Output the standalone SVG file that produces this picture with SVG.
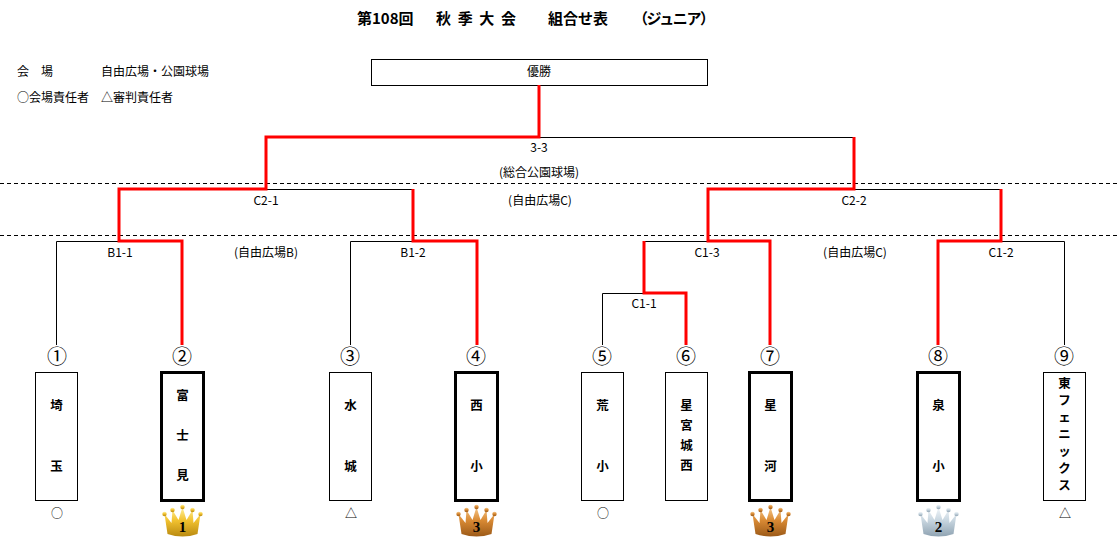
<svg xmlns="http://www.w3.org/2000/svg" width="1120" height="540" viewBox="0 0 1120 540">
<style>
text{font-family:"Noto Sans CJK JP","Noto Sans",sans-serif;fill:#000}
.t{font-size:15px;font-weight:bold}
.s{font-size:12px}
.l{font-size:12px;text-anchor:middle}
.n{font-size:20px;text-anchor:middle}
.m{font-size:12.5px;font-weight:bold;text-anchor:middle}
.k{font-size:12px;text-anchor:middle}
.box{fill:#fff;stroke:#000;stroke-width:1}
.win{fill:#fff;stroke:#000;stroke-width:3}
.bl{fill:none;stroke:#000;stroke-width:1}
.rd{fill:none;stroke:#ff0000;stroke-width:3;stroke-linejoin:miter}
.dash{stroke:#000;stroke-width:1;stroke-dasharray:4 3}
.cn{font-family:"Liberation Serif",serif;font-size:15px;font-weight:bold;text-anchor:middle}
</style>
<defs>
<linearGradient id="gold" x1="0" y1="0" x2="0" y2="1">
<stop offset="0" stop-color="#fff3a0"/><stop offset="0.45" stop-color="#f2c230"/><stop offset="1" stop-color="#b98a10"/>
</linearGradient>
<linearGradient id="bronze" x1="0" y1="0" x2="0" y2="1">
<stop offset="0" stop-color="#f6c88a"/><stop offset="0.45" stop-color="#d98a34"/><stop offset="1" stop-color="#9c5a18"/>
</linearGradient>
<linearGradient id="silver" x1="0" y1="0" x2="0" y2="1">
<stop offset="0" stop-color="#f4f8fb"/><stop offset="0.45" stop-color="#c8d6e0"/><stop offset="1" stop-color="#8fa3b2"/>
</linearGradient>
<g id="crown">
<path d="M2,10 L9,19 L10,6 L16,16 L20,3 L24,16 L30,6 L31,19 L38,10 L35,30 Q20,35 5,30 Z"/>
<circle cx="2" cy="10" r="2.2"/><circle cx="10" cy="6" r="2.2"/><circle cx="20" cy="3" r="2.2"/><circle cx="30" cy="6" r="2.2"/><circle cx="38" cy="10" r="2.2"/>
</g>
</defs>
<rect width="1120" height="540" fill="#fff"/>

<g id="title">
<text class="t" x="357" y="24">第108回</text>
<text class="t" x="436" y="24" textLength="80" xml:space="preserve">秋 季 大 会</text>
<text class="t" x="548" y="24">組合せ表</text>
<text class="t" x="633" y="24" textLength="82">（ジュニア）</text>
</g>
<g id="info">
<text class="s" x="17" y="76" xml:space="preserve">会　場</text>
<text class="s" x="101" y="76">自由広場・公園球場</text>
<text class="s" x="17" y="102">○会場責任者</text>
<text class="s" x="101" y="102">△審判責任者</text>
</g>

<g id="final">
<rect class="box" x="371.5" y="59.5" width="336" height="26"/>
<text class="s" x="539" y="76" text-anchor="middle">優勝</text>
</g>

<g id="dividers">
<line class="dash" x1="0" y1="183.5" x2="1120" y2="183.5"/>
<line class="dash" x1="0" y1="235.5" x2="1120" y2="235.5"/>
</g>

<g id="connectors">
<path class="bl" d="M539,137.5 H854 M266,189.5 H413 M854,189.5 H1001 M56.5,345 V241.5 H119 M350.5,345 V241.5 H413 M644,241.5 H708 M1001,241.5 H1064.5 V345 M602.5,345 V293.5 H644"/>
<path class="rd" d="M182,345 V241 H119 V189 H266 V137 H539 V85"/>
<path class="rd" d="M477,345 V241 H413 V189"/>
<path class="rd" d="M686,345 V293 H644 V241"/>
<path class="rd" d="M770,345 V241 H708 V189 H854 V137"/>
<path class="rd" d="M938,345 V241 H1001 V189"/>
</g>

<g id="labels">
<text class="l" x="539" y="152">3-3</text>
<text class="l" x="539" y="177">(総合公園球場)</text>
<text class="l" x="266" y="205">C2-1</text>
<text class="l" x="540" y="205">(自由広場C)</text>
<text class="l" x="854" y="205">C2-2</text>
<text class="l" x="120" y="257">B1-1</text>
<text class="l" x="266" y="257">(自由広場B)</text>
<text class="l" x="413" y="257">B1-2</text>
<text class="l" x="707" y="257">C1-3</text>
<text class="l" x="855" y="257">(自由広場C)</text>
<text class="l" x="1001" y="257">C1-2</text>
<text class="l" x="644" y="308">C1-1</text>
</g>

<g id="team1">
<text class="n" x="57" y="364">①</text>
<rect class="box" x="35.5" y="372.5" width="42" height="128"/>
<text class="m" x="56.5" y="410">埼</text><text class="m" x="56.5" y="471">玉</text>
<text class="k" x="57" y="518">○</text>
</g>
<g id="team2">
<text class="n" x="182" y="364">②</text>
<rect class="win" x="161.5" y="372.5" width="42" height="128"/>
<text class="m" x="182.5" y="400">富</text><text class="m" x="182.5" y="440">士</text><text class="m" x="182.5" y="480">見</text>
<use href="#crown" transform="translate(162.5,504)" fill="url(#gold)"/>
<text class="cn" x="182.5" y="532" fill="#b07a08">1</text>
</g>
<g id="team3">
<text class="n" x="350" y="364">③</text>
<rect class="box" x="329.5" y="372.5" width="42" height="128"/>
<text class="m" x="350.5" y="410">水</text><text class="m" x="350.5" y="471">城</text>
<text class="k" x="351" y="518">△</text>
</g>
<g id="team4">
<text class="n" x="476" y="364">④</text>
<rect class="win" x="455.5" y="372.5" width="42" height="128"/>
<text class="m" x="476.5" y="410">西</text><text class="m" x="476.5" y="471">小</text>
<use href="#crown" transform="translate(456.5,504)" fill="url(#bronze)"/>
<text class="cn" x="476.5" y="532" fill="#98561a">3</text>
</g>
<g id="team5">
<text class="n" x="602" y="364">⑤</text>
<rect class="box" x="581.5" y="372.5" width="42" height="128"/>
<text class="m" x="602.5" y="410">荒</text><text class="m" x="602.5" y="471">小</text>
<text class="k" x="603" y="518">○</text>
</g>
<g id="team6">
<text class="n" x="686" y="364">⑥</text>
<rect class="box" x="665.5" y="372.5" width="42" height="128"/>
<text class="m" x="686.5" y="410">星</text><text class="m" x="686.5" y="430">宮</text><text class="m" x="686.5" y="450">城</text><text class="m" x="686.5" y="470">西</text>
</g>
<g id="team7">
<text class="n" x="770" y="364">⑦</text>
<rect class="win" x="749.5" y="372.5" width="42" height="128"/>
<text class="m" x="770.5" y="410">星</text><text class="m" x="770.5" y="471">河</text>
<use href="#crown" transform="translate(750.5,504)" fill="url(#bronze)"/>
<text class="cn" x="770.5" y="532" fill="#98561a">3</text>
</g>
<g id="team8">
<text class="n" x="938" y="364">⑧</text>
<rect class="win" x="917.5" y="372.5" width="42" height="128"/>
<text class="m" x="938.5" y="410">泉</text><text class="m" x="938.5" y="471">小</text>
<use href="#crown" transform="translate(918.5,504)" fill="url(#silver)"/>
<text class="cn" x="938.5" y="532" fill="#8a9caa">2</text>
</g>
<g id="team9">
<text class="n" x="1064" y="364">⑨</text>
<rect class="box" x="1043.5" y="372.5" width="42" height="128"/>
<text class="m" x="1064.5" y="388">東</text><text class="m" x="1064.5" y="405">フ</text><text class="m" x="1064.5" y="422">ェ</text><text class="m" x="1064.5" y="439">ニ</text><text class="m" x="1064.5" y="456">ッ</text><text class="m" x="1064.5" y="473">ク</text><text class="m" x="1064.5" y="490">ス</text>
<text class="k" x="1065" y="518">△</text>
</g>
</svg>
